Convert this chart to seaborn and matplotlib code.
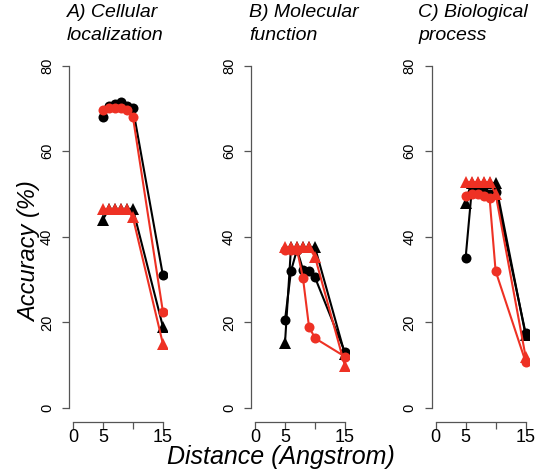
import matplotlib
matplotlib.use("Agg")
import matplotlib.pyplot as plt
import seaborn as sns
import pandas as pd

sns.set_style("white")
plt.rcParams['font.family'] = ['Liberation Sans', 'DejaVu Sans']
plt.rcParams['text.color'] = 'black'
plt.rcParams['xtick.color'] = 'black'
plt.rcParams['ytick.color'] = 'black'

distance = [5, 6, 7, 8, 9, 10, 15]
panels = ["A) Cellular\nlocalization", "B) Molecular\nfunction", "C) Biological\nprocess"]

# Panel A
a_black_circ = [68, 70.5, 71, 71.5, 70.5, 70, 31]
a_red_circ = [69.5, 70, 70, 70, 69.5, 68, 22.5]
a_black_tri = [44, 46.5, 46.5, 46.5, 46.5, 46.5, 19]
a_red_tri = [46.5, 46.5, 46.5, 46.5, 46.5, 44.5, 15]
# Panel B
b_black_circ = [20.5, 32, 37, 32.3, 32, 30.5, 13]
b_red_circ = [37, 37, 37, 30.3, 19, 16.3, 12]
b_black_tri = [15.2, 37.5, 37.5, 37.5, 37.5, 37.5, 12.5]
b_red_tri = [37.5, 37.5, 37.5, 37.5, 37.5, 35.3, 9.8]
# Panel C
c_black_circ = [35, 50.5, 50.5, 50.5, 50, 50.5, 17.5]
c_red_circ = [49.5, 50, 50, 49.5, 49, 32, 10.8]
c_black_tri = [48, 52.5, 52.5, 52.5, 52.5, 52.5, 17]
c_red_tri = [52.8, 52.8, 52.8, 52.8, 52.8, 50, 12]

data = [
    (a_black_circ, a_black_tri, a_red_circ, a_red_tri),
    (b_black_circ, b_black_tri, b_red_circ, b_red_tri),
    (c_black_circ, c_black_tri, c_red_circ, c_red_tri),
]

W, H = 552, 472
fig = plt.figure(figsize=(W / 100, H / 100), dpi=100)

spine_x = [69.3, 251.4, 432.0]
title_x = [67, 249, 418]
ax_w = 97.2
ax_bottom = 472 - 421.7
ax_h = 421.7 - 51.8

RED = "#ee3124"
styles = [("black", "o", 7.2), ("black", "^", 8.5), (RED, "o", 7.2), (RED, "^", 8.5)]

for i in range(3):
    ax = fig.add_axes([spine_x[i] / W, ax_bottom / H, ax_w / W, ax_h / H])
    for series, (col, mk, ms) in zip(data[i], styles):
        df = pd.DataFrame({"Distance": distance, "Accuracy": series})
        sns.lineplot(data=df, x="Distance", y="Accuracy", color=col, marker=mk,
                     markersize=ms, markeredgewidth=0, linewidth=1.5, ax=ax,
                     errorbar=None, legend=False)
    ax.set_xlim(-0.6, 15.6)
    ax.set_ylim(-3.2, 83.2)
    ax.set_xticks([0, 5, 10, 15])
    ax.set_xticklabels(["0", "5", "", "15"])
    ax.set_yticks([0, 20, 40, 60, 80])
    ax.set_yticklabels(["0", "20", "40", "60", "80"], rotation=90, va="center")
    for s in ["top", "right"]:
        ax.spines[s].set_visible(False)
    ax.spines["left"].set_bounds(0, 80)
    ax.spines["bottom"].set_bounds(0, 15)
    for s in ["left", "bottom"]:
        ax.spines[s].set_color("#555555")
        ax.spines[s].set_linewidth(0.9)
    ax.tick_params(axis="x", direction="out", length=5, width=0.9, color="#555555",
                   labelcolor="black", labelsize=13, pad=0.5, bottom=True)
    ax.tick_params(axis="y", direction="out", length=5, width=0.9, color="#555555",
                   labelcolor="black", labelsize=10.5, pad=6, left=True)
    ax.set_xlabel("")
    ax.set_ylabel("")
    ax.set_facecolor("none")
    fig.text(title_x[i] / W, 1 - 4 / H, panels[i], ha="left", va="top",
             fontsize=14, style="italic", linespacing=1.5, color="black")

fig.text(281 / W, 1 - 457 / H, "Distance (Angstrom)", ha="center", va="center",
         fontsize=18, style="italic", color="black")
fig.text(30 / W, 1 - 252 / H, "Accuracy (%)", ha="center", va="center",
         fontsize=17, style="italic", rotation=90, color="black")

fig.savefig("out.png", dpi=100, facecolor="white")
